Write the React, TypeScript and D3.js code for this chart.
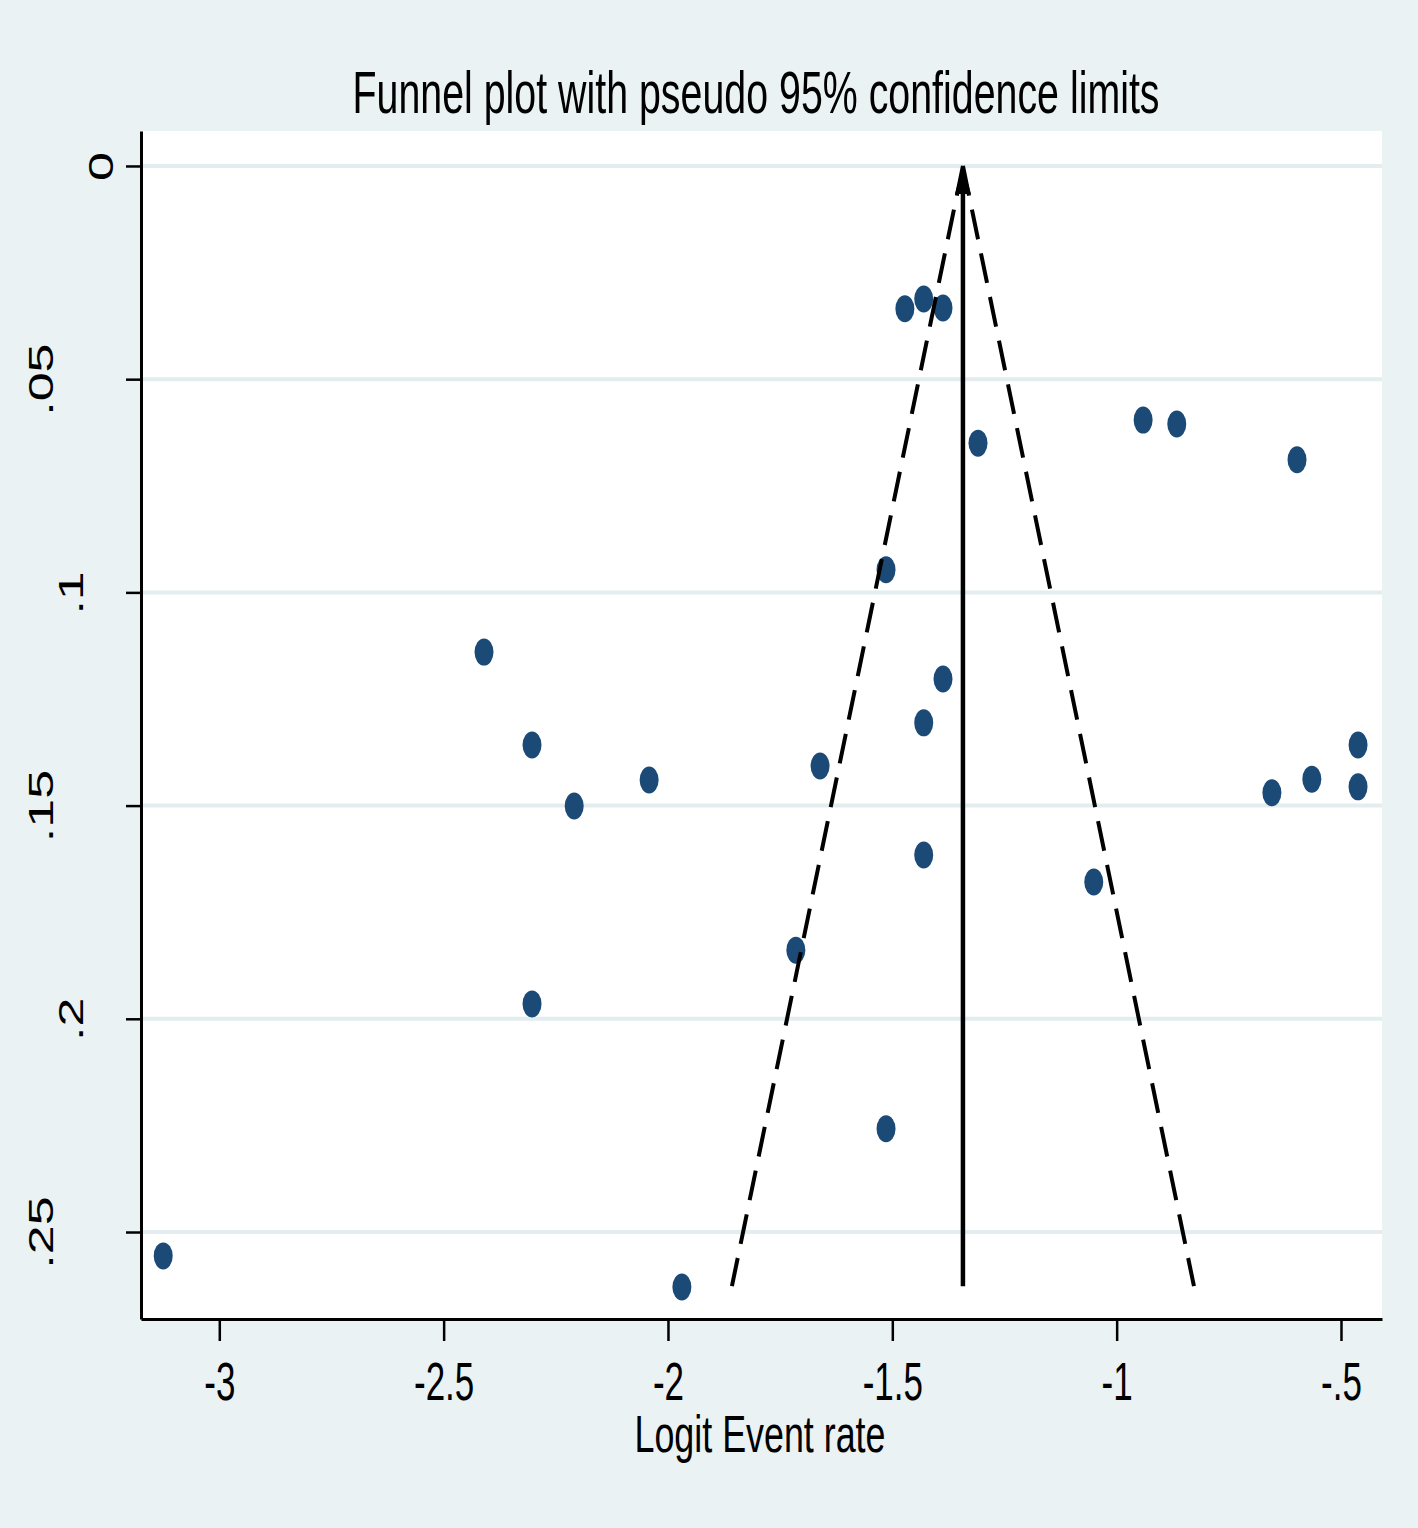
import React, { useEffect, useRef } from 'react';
import * as d3 from 'd3';

// logit event rate and its standard error for each study
const logitRate = [
  -3.125, -1.969, -2.41, -2.303, -2.303, -2.209, -2.042, -1.661, -1.715,
  -1.514, -1.514, -1.472, -1.43, -1.387, -1.309, -1.387, -1.43, -1.43,
  -1.051, -0.941, -0.866, -0.598, -0.654, -0.565, -0.462, -0.462,
];
const seLogit = [
  0.2556, 0.2629, 0.114, 0.1358, 0.1965, 0.1501, 0.144, 0.1407, 0.1839,
  0.0947, 0.2258, 0.0335, 0.0312, 0.0333, 0.065, 0.1203, 0.1306, 0.1616,
  0.1679, 0.0596, 0.0605, 0.0689, 0.147, 0.1438, 0.1358, 0.1456,
];
const pooledEstimate = -1.3426;
const maxSe = 0.2627;

const xTicks = [-3, -2.5, -2, -1.5, -1, -0.5];
const yTicks = [0, 0.05, 0.1, 0.15, 0.2, 0.25];

const W = 1418;
const H = 1528;
const FONT = '"Liberation Sans", Arial, sans-serif';
const SQUASH = 0.66;

// stata style labels: no leading zero
const fmt = (v: number) => {
  if (v === 0) return '0';
  const s = String(+v.toFixed(3));
  return s.replace(/^(-?)0\./, '$1.');
};

const App = () => {
  const svgRef = useRef<SVGSVGElement>(null);

  useEffect(() => {
    const svg = d3.select(svgRef.current);
    svg.selectAll('*').remove();

    const left = 141, right = 1382, top = 131, bottom = 1319;

    const x = d3.scaleLinear().domain([-3.1745, -0.4086]).range([left, right]);
    const y = d3.scaleLinear().domain([-0.0082, 0.2704]).range([top, bottom]);

    svg.append('rect').attr('width', W).attr('height', H).attr('fill', '#eaf2f3');
    svg.append('rect')
      .attr('x', left).attr('y', top)
      .attr('width', right - left).attr('height', bottom - top)
      .attr('fill', '#ffffff');

    // grid
    svg.append('g')
      .selectAll('line')
      .data(yTicks)
      .join('line')
      .attr('x1', left).attr('x2', right)
      .attr('y1', d => y(d)).attr('y2', d => y(d))
      .attr('stroke', '#e3edef')
      .attr('stroke-width', 4);

    // studies
    const pts = logitRate.map((v, i) => ({ x: v, se: seLogit[i] }));
    svg.append('g')
      .selectAll('ellipse')
      .data(pts)
      .join('ellipse')
      .attr('cx', d => x(d.x))
      .attr('cy', d => y(d.se))
      .attr('rx', 9.5)
      .attr('ry', 13.5)
      .attr('fill', '#1c4a77');

    // pseudo 95% limits
    const limits = [-1.96, 1.96];
    limits.forEach(z => {
      svg.append('path')
        .datum([0, maxSe])
        .attr('fill', 'none')
        .attr('stroke', '#000')
        .attr('stroke-width', 4)
        .attr('stroke-dasharray', '30.2 14.4')
        .attr('d', d3.line<number>()
          .x(s => x(pooledEstimate + z * s))
          .y(s => y(s)));
    });

    // pooled estimate line with arrow head
    svg.append('line')
      .attr('x1', x(pooledEstimate)).attr('x2', x(pooledEstimate))
      .attr('y1', y(0) + 20).attr('y2', y(maxSe))
      .attr('stroke', '#000')
      .attr('stroke-width', 4.5);
    const ax = x(pooledEstimate), ay = y(0);
    svg.append('path')
      .attr('d', `M${ax},${ay} L${ax - 8},${ay + 28} L${ax + 8},${ay + 28} Z`)
      .attr('fill', '#000');

    // x axis
    const gx = svg.append('g')
      .attr('transform', `translate(0,${bottom})`)
      .call(d3.axisBottom(x).tickValues(xTicks).tickSize(22).tickSizeOuter(0).tickFormat(d => fmt(+d)));
    gx.select('.domain').attr('stroke', '#000').attr('stroke-width', 3);
    gx.selectAll('.tick line').attr('stroke', '#000').attr('stroke-width', 2.5);
    gx.selectAll<SVGTextElement, number>('.tick text')
      .attr('y', 81).attr('dy', 0)
      .attr('fill', '#000')
      .style('font-family', FONT)
      .style('font-size', '53px')
      .each(function () {
        const len = this.getComputedTextLength();
        d3.select(this)
          .attr('textLength', len * SQUASH)
          .attr('lengthAdjust', 'spacingAndGlyphs');
      });

    // y axis
    const gy = svg.append('g')
      .attr('transform', `translate(${left},0)`)
      .call(d3.axisLeft(y).tickValues(yTicks).tickSize(15).tickSizeOuter(0).tickFormat(d => fmt(+d)));
    gy.select('.domain').attr('stroke', '#000').attr('stroke-width', 3);
    gy.selectAll('.tick line').attr('stroke', '#000').attr('stroke-width', 2.5);
    gy.selectAll<SVGTextElement, number>('.tick text')
      .attr('x', 0).attr('y', 0).attr('dy', 0)
      .attr('text-anchor', 'middle')
      .attr('transform', d => `translate(${143 - 30 * fmt(d).length - left},0) scale(${SQUASH},1) rotate(-90)`)
      .attr('fill', '#000')
      .style('font-family', FONT)
      .style('font-size', '52px');

    // titles
    svg.append('text')
      .attr('x', 756).attr('y', 113)
      .attr('text-anchor', 'middle')
      .attr('textLength', 807)
      .attr('lengthAdjust', 'spacingAndGlyphs')
      .style('font-family', FONT)
      .style('font-size', '60px')
      .text('Funnel plot with pseudo 95% confidence limits');

    svg.append('text')
      .attr('x', 760).attr('y', 1452)
      .attr('text-anchor', 'middle')
      .attr('textLength', 251)
      .attr('lengthAdjust', 'spacingAndGlyphs')
      .style('font-family', FONT)
      .style('font-size', '52px')
      .text('Logit Event rate');
  }, []);

  return (
    <svg
      ref={svgRef}
      width={W}
      height={H}
      style={{ position: 'absolute', left: 0, top: 0, display: 'block' }}
    />
  );
};

export default App;
